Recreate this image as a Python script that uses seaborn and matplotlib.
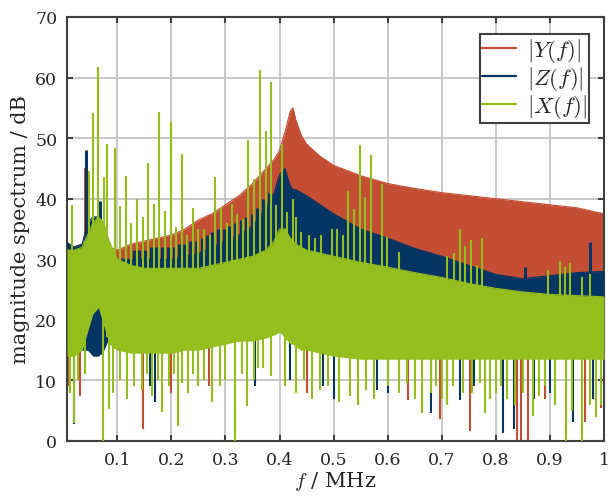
import numpy as np
import pandas as pd
import matplotlib
matplotlib.use("Agg")
import matplotlib.pyplot as plt
import seaborn as sns
from matplotlib.lines import Line2D

# ---------------- data ----------------
freq = [0.007, 0.02, 0.035, 0.045, 0.055, 0.065, 0.075, 0.085, 0.1, 0.125,
        0.15, 0.175, 0.2, 0.225, 0.25, 0.275, 0.3, 0.325, 0.35, 0.375,
        0.39, 0.40, 0.41, 0.42, 0.425, 0.43, 0.44, 0.45, 0.475, 0.5,
        0.55, 0.6, 0.65, 0.7, 0.75, 0.8, 0.85, 0.9, 0.95, 1.0]

y_top = [32.5, 32, 32.5, 33, 33, 33, 33, 32, 31.5, 32.5,
         33, 33.5, 34, 35, 36.5, 37.5, 39, 40.5, 42.5, 45,
         46.5, 48, 51, 54.5, 55, 53, 50.5, 49, 47, 45.5,
         43.8, 42.5, 41.7, 41, 40.5, 40, 39.5, 39, 38.5, 37.5]
y_bot = [15, 15, 16, 19, 22, 23, 20, 17, 16, 15.5,
         15.5, 15.5, 15.5, 16, 16, 16.5, 17, 17.5, 17.5, 18,
         18.5, 19, 18, 17, 17, 16.5, 16, 16, 15.5, 15,
         14.5, 14.5, 14.5, 14.5, 14.5, 14.5, 14.5, 14.5, 14.5, 14.5]

z_top = [32.8, 32, 32.5, 36, 37, 37, 35, 31, 30, 30,
         30, 30, 30, 30.5, 31, 32, 33, 34, 35.5, 38.5,
         41, 44, 45, 42, 41.5, 41.5, 41, 40.5, 39, 37.5,
         35, 33.5, 31.8, 30.5, 29, 27.5, 26.8, 27.3, 27.8, 28]
z_bot = [15, 15, 15, 15, 14, 14, 15, 17, 16, 15.5,
         15.5, 15.5, 15.5, 16, 16, 16.5, 17, 17.5, 17.5, 18,
         18.5, 19, 18, 17, 17, 16.5, 16, 16, 15.5, 15,
         14.5, 14.5, 14.5, 14.5, 14.5, 14.5, 14.5, 14.5, 14.5, 14.5]

x_top = [31.5, 31.5, 32, 34, 36, 37, 36, 33, 30, 29,
         28.5, 28.5, 28.5, 28.5, 28.5, 29, 29.5, 30, 30.5, 31.5,
         33, 35, 35, 33.5, 33, 32.5, 32, 31.5, 31, 30.5,
         29.5, 28.7, 27.8, 27, 26, 25.2, 24.6, 24.2, 24, 23.8]
x_bot = [14, 14, 15, 18, 21, 22, 19, 16, 15, 14.5,
         14.5, 14.5, 14.5, 15, 15, 15.5, 16, 16.5, 16.5, 17,
         17.5, 18, 17, 16, 16, 15.5, 15, 15, 14.5, 14,
         13.5, 13.5, 13.5, 13.5, 13.5, 13.5, 13.5, 13.5, 13.5, 13.5]

# upward spikes (frequency, peak level)
x_up_f = [0.016, 0.0475, 0.055, 0.065, 0.075, 0.081, 0.096, 0.105, 0.116, 0.126,
          0.136, 0.147, 0.157, 0.168, 0.178, 0.188, 0.199, 0.209, 0.219, 0.229,
          0.240, 0.25, 0.26, 0.271, 0.281, 0.291, 0.302, 0.312, 0.322, 0.332,
          0.3425, 0.353, 0.363, 0.375, 0.384, 0.394, 0.404, 0.413, 0.424, 0.43,
          0.44, 0.455, 0.465, 0.476, 0.497, 0.507, 0.517, 0.527, 0.538, 0.548,
          0.558, 0.569, 0.589, 0.599, 0.62, 0.71, 0.723, 0.734, 0.743, 0.754,
          0.765, 0.774, 0.897, 0.919, 0.928, 0.938, 0.96, 0.975]
x_up_v = [39, 44.6, 54.1, 61.8, 43.6, 49, 48.4, 38.8, 43.7, 36,
          40, 37, 45.9, 39.1, 54.3, 37.9, 52.6, 35.3, 47.3, 34,
          38.5, 35, 35, 34, 43.6, 38.6, 36, 39.1, 37.5, 36.7,
          49.7, 43.3, 61.3, 51.2, 59.2, 39, 49, 37.8, 40, 37,
          34.5, 34, 33.5, 34, 35, 35, 34, 41.3, 38.3, 48.8,
          40.3, 47.2, 42.4, 33.7, 31.2, 30.5, 31, 35, 32.2, 33.2,
          29, 33.5, 28.2, 29.7, 28.8, 29.4, 27, 27.5]

z_up_f = [0.042, 0.068, 0.131, 0.141, 0.152, 0.162, 0.172, 0.183, 0.193, 0.204,
          0.214, 0.224, 0.235, 0.245, 0.256, 0.266, 0.276, 0.287, 0.297, 0.307,
          0.318, 0.328, 0.338, 0.349, 0.359, 0.37, 0.38, 0.854, 0.975]
z_up_v = [48, 39.6, 31.5, 31.5, 31.5, 32, 32, 32, 32, 32,
          32.5, 32.5, 33, 33, 33.5, 34, 34.5, 35, 35, 35.5,
          36, 36.5, 37, 37.5, 38.5, 40, 41, 28.7, 32.8]

y_up_f = [0.040]
y_up_v = [45]

# downward spikes (frequency, lowest level)
x_dn_f = [0.013, 0.02, 0.027, 0.04, 0.074, 0.085, 0.092, 0.105, 0.118, 0.13,
          0.145, 0.155, 0.164, 0.175, 0.182, 0.195, 0.205, 0.213, 0.22, 0.23,
          0.24, 0.25, 0.26, 0.275, 0.29, 0.3, 0.318, 0.33, 0.34, 0.352,
          0.36, 0.37, 0.385, 0.41, 0.43, 0.445, 0.46, 0.475, 0.49, 0.51,
          0.53, 0.545, 0.56, 0.575, 0.6, 0.62, 0.635, 0.65, 0.663, 0.68,
          0.69, 0.7, 0.71, 0.72, 0.74, 0.755, 0.77, 0.78, 0.79, 0.8,
          0.81, 0.82, 0.835, 0.85, 0.869, 0.88, 0.89, 0.91, 0.93, 0.94,
          0.96, 0.975, 0.986, 0.995]
x_dn_v = [8, 3, 10, 11, 0, 5.3, 8, 10, 7, 9,
          8.5, 11, 7.4, 10, 4.8, 9, 11, 2.5, 9.5, 8,
          11, 9, 10, 6.4, 9, 10, 0, 11, 5.8, 10,
          12, 12, 10.7, 9, 8, 10, 7, 8.5, 9, 6.5,
          7.5, 6, 8.5, 7, 9, 8, 9.5, 7, 4.7, 8,
          9, 7, 6, 9, 8, 8, 9.5, 4.6, 7, 8,
          9, 7, 6, 8, 4.1, 7.5, 9, 6, 0, 5,
          0, 6, 4, 6]

z_dn_f = [0.02, 0.16, 0.17, 0.25, 0.355, 0.42, 0.48, 0.5, 0.58, 0.6,
          0.68, 0.709, 0.734, 0.76, 0.813, 0.834, 0.87, 0.9, 0.943, 0.98]
z_dn_v = [2.8, 9, 6.4, 10, 9, 10, 9, 7, 8.5, 8,
          4.7, 6.4, 6.7, 9, 1.4, 1.9, 7, 8, 3.1, 7]

y_dn_f = [0.01, 0.031, 0.148, 0.2, 0.27, 0.45, 0.638, 0.697, 0.752, 0.839,
          0.846, 0.86, 0.89, 0.965, 0.995]
y_dn_v = [9, 7.5, 2, 8, 9, 8, 6.7, 3.6, 1.7, 0,
          0, 0, 7, 3.1, 5.5]

labels = ["$|Y(f)|$", "$|Z(f)|$", "$|X(f)|$"]
x_ticks = [0.1, 0.2, 0.3, 0.4, 0.5, 0.6, 0.7, 0.8, 0.9, 1.0]
x_tick_labels = ["0.1", "0.2", "0.3", "0.4", "0.5", "0.6", "0.7", "0.8", "0.9", "1"]
y_ticks = [0, 10, 20, 30, 40, 50, 60, 70]

# ---------------- style ----------------
sns.set_theme(style="white")
plt.rcParams["font.family"] = ["DejaVu Serif"]
plt.rcParams["mathtext.fontset"] = "cm"

C_Y = "#C44E33"
C_Z = "#053563"
C_X = "#94BD1E"
EDGE = "#404040"

fig = plt.figure(figsize=(6.09, 5.02), dpi=100)
ax = fig.add_axes([67 / 609, 60 / 502, 537 / 609, 424 / 502])

series = [
    (y_top, y_bot, y_up_f, y_up_v, y_dn_f, y_dn_v, C_Y, 1.5),
    (z_top, z_bot, z_up_f, z_up_v, z_dn_f, z_dn_v, C_Z, 2.2),
    (x_top, x_bot, x_up_f, x_up_v, x_dn_f, x_dn_v, C_X, 1.5),
]

for k, (top, bot, uf, uv, df_, dv, col, spw) in enumerate(series):
    z0 = 2 + k
    ax.fill_between(freq, bot, top, color=col, lw=0, zorder=z0)
    d = pd.DataFrame({"f": freq, "v": top})
    sns.lineplot(data=d, x="f", y="v", color=col, lw=0.8, ax=ax, zorder=z0)
    base_up = np.interp(uf, freq, bot)
    ax.vlines(uf, base_up, uv, color=col, lw=spw, zorder=z0)
    base_dn = np.interp(df_, freq, top)
    ax.vlines(df_, dv, base_dn, color=col, lw=1.5, zorder=z0)

ax.set_xlim(0.007, 1.0)
ax.set_ylim(0, 70)
ax.set_xticks(x_ticks)
ax.set_xticklabels(x_tick_labels)
ax.set_yticks(y_ticks)
ax.set_xlabel("$f$ / MHz", fontsize=15, labelpad=1)
ax.set_ylabel("magnitude spectrum / dB", fontsize=15, labelpad=4)
ax.grid(True, color="#c4c4c4", lw=1.3)
ax.set_axisbelow(True)
for s in ax.spines.values():
    s.set_color(EDGE)
    s.set_linewidth(1.5)
    s.set_visible(True)
ax.tick_params(axis="both", which="both", direction="in", length=4, width=1.5,
               color=EDGE, labelsize=12.5, top=True, right=True,
               bottom=True, left=True, pad=7)

handles = [Line2D([], [], color=c, lw=1.6) for c in (C_Y, C_Z, C_X)]
leg = ax.legend(handles, labels, loc="upper right", fontsize=16.5, frameon=True,
                fancybox=False, framealpha=1, edgecolor=EDGE,
                handlelength=1.5, handletextpad=0.45, borderpad=0.1,
                labelspacing=0.0, borderaxespad=0,
                bbox_to_anchor=(0.972, 0.96))
leg.get_frame().set_linewidth(1.5)
leg.set_zorder(10)

fig.savefig("out.png", dpi=100)
